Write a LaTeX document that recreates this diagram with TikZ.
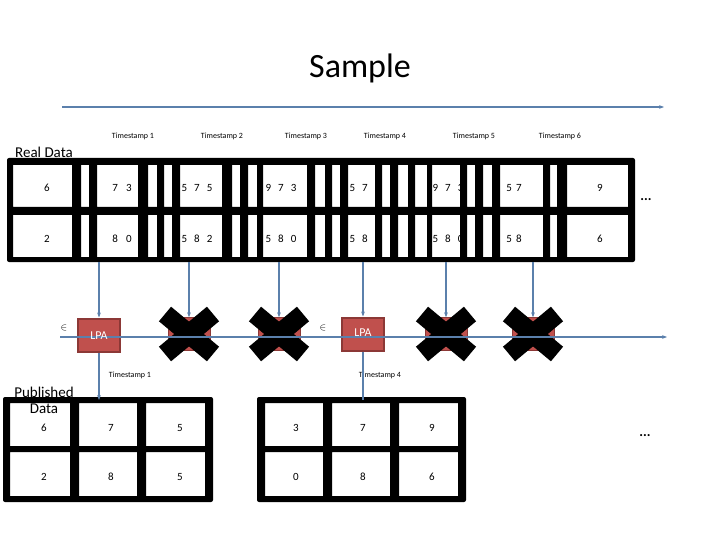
\documentclass[tikz,border=0pt]{standalone}
\usepackage{fontspec}
\setmainfont{Carlito}
\usetikzlibrary{arrows.meta}
\definecolor{ln}{HTML}{5B80AC}
\definecolor{lpaf}{HTML}{C0504D}
\definecolor{lpab}{HTML}{8C3836}
\begin{document}
\begin{tikzpicture}[x=1pt,y=-1pt,
  ts/.style={font=\fontsize{8}{9}\selectfont},
  num/.style={font=\fontsize{11}{12}\selectfont},
  conn/.style={draw=ln,line width=1.2pt,-{Stealth[length=5pt]}},
  lpa/.style={draw=lpab,line width=2pt,fill=lpaf,minimum width=42pt,minimum height=33pt,inner sep=0pt,text=white,font=\fontsize{12}{13}\selectfont},
  xbox/.style={draw=lpab,fill=lpaf,minimum width=42pt,minimum height=33pt,inner sep=0pt},
  big/.style={font=\fontsize{15}{16}\selectfont}]
\useasboundingbox (0,0) rectangle (720,540);
\node[font=\fontsize{34}{36}\selectfont] (title) at (360,68) {Sample};
\coordinate (a1) at (62,107); \coordinate (a2) at (664,107);
\draw[draw=ln,line width=1.2pt,-{Stealth[length=5pt]}] (a1) -- (a2);
\node[big] (real) at (44,152) {Real Data};
\foreach \x/\t in {133/1,222/2,306/3,385/4,474/5,560/6} \node[ts] (t\t) at (\x,136) {Timestamp \t};
% top table texts
\foreach \x/\r/\s [count=\i] in {47/6/2,122/{7\hspace{8pt}3}/{8\hspace{8pt}0},197/{5\hspace{7pt}7\hspace{7pt}5}/{5\hspace{7pt}8\hspace{7pt}2},281/{9\hspace{7pt}7\hspace{7pt}3}/{5\hspace{7pt}8\hspace{7pt}0},365/{5\hspace{7pt}7\hspace{7pt}5}/{5\hspace{7pt}8\hspace{7pt}2},448/{9\hspace{7pt}7\hspace{7pt}3}/{5\hspace{7pt}8\hspace{7pt}0},514/{5\hspace{4pt}7}/{5\hspace{4pt}8},600/9/6}{
  \node[num] (r1c\i) at (\x,188) {\r};
  \node[num] (r2c\i) at (\x,239) {\s};}
\fill[even odd rule,rounded corners=2pt] (7,158) rectangle (635,262)
  \foreach \a/\b in {13/72,81/89,97/138,148/157,164/172,180/222,232/240,248/257,263/307,315/325,332/340,348/375,382/390,398/408,415/427,432/460,467/475,483/492,500/543,550/557,567/628}{
    [sharp corners] (\a,165) rectangle (\b,207) (\a,215) rectangle (\b,257)};
\node[font=\fontsize{14}{14}\selectfont] (dots1) at (646,200) {\textbf{...}};
% middle line
\coordinate (m1) at (60,337); \coordinate (m2) at (667,337);
\node (e1) at (64,328) {$\in$};
\node (e2) at (323,328) {$\in$};
\node[lpa] (L1) at (99,335) {};
\node[lpa] (L4) at (363,334) {};
\foreach \x/\n in {189/2,279/3,446/5,533/6}{
  \node[xbox] (X\n) at (\x,334) {};
  \draw[line width=19pt] (\x-24,314) -- (\x+24,354) (\x-24,354) -- (\x+24,314);}
\draw[draw=ln,line width=1.2pt,-{Stealth[length=5pt]}] (m1) -- (m2);
\node[text=white,font=\fontsize{12}{13}\selectfont] at (99,336) {LPA};
\node[text=white,font=\fontsize{12}{13}\selectfont] at (363,333) {LPA};
\foreach \x/\n in {99/1,189/2,279/3,363/4,446/5,533/6} \coordinate (s\n) at (\x,262);
\draw[conn] (s1) -- (L1.north);
\draw[conn] (s4) -- (L4.north);
\foreach \n in {2,3,5,6} \draw[conn] (s\n) -- (X\n.north);
\node[ts] (pt1) at (130,375) {Timestamp 1};
\node[ts] (pt4) at (380,375) {Timestamp 4};
% published tables
\fill[even odd rule,rounded corners=2pt] (3,397) rectangle (213,502)
  \foreach \a/\b in {10/70,79/137,146/205}{[sharp corners] (\a,403) rectangle (\b,446) (\a,452) rectangle (\b,496)};
\fill[even odd rule,rounded corners=2pt] (257,397) rectangle (466,502)
  \foreach \a/\b in {265/323,332/390,399/458}{[sharp corners] (\a,403) rectangle (\b,446) (\a,452) rectangle (\b,496)};
\coordinate (p1) at (99,400); \coordinate (p4) at (363,400);
\draw[conn] (L1.south) -- (p1);
\draw[draw=ln,line width=1.2pt] (L4.south) -- (p4);
\node[big,align=center,inner sep=0pt] (pub) at (44,400) {Published\\Data};
\foreach \x/\r/\s [count=\i] in {44/6/2,111/7/8,180/5/5,296/3/0,363/7/8,432/9/6}{
  \node[num] (q1c\i) at (\x,428) {\r};
  \node[num] (q2c\i) at (\x,477) {\s};}
\node[font=\fontsize{14}{14}\selectfont] (dots2) at (645,436) {\textbf{...}};
\end{tikzpicture}
\end{document}
